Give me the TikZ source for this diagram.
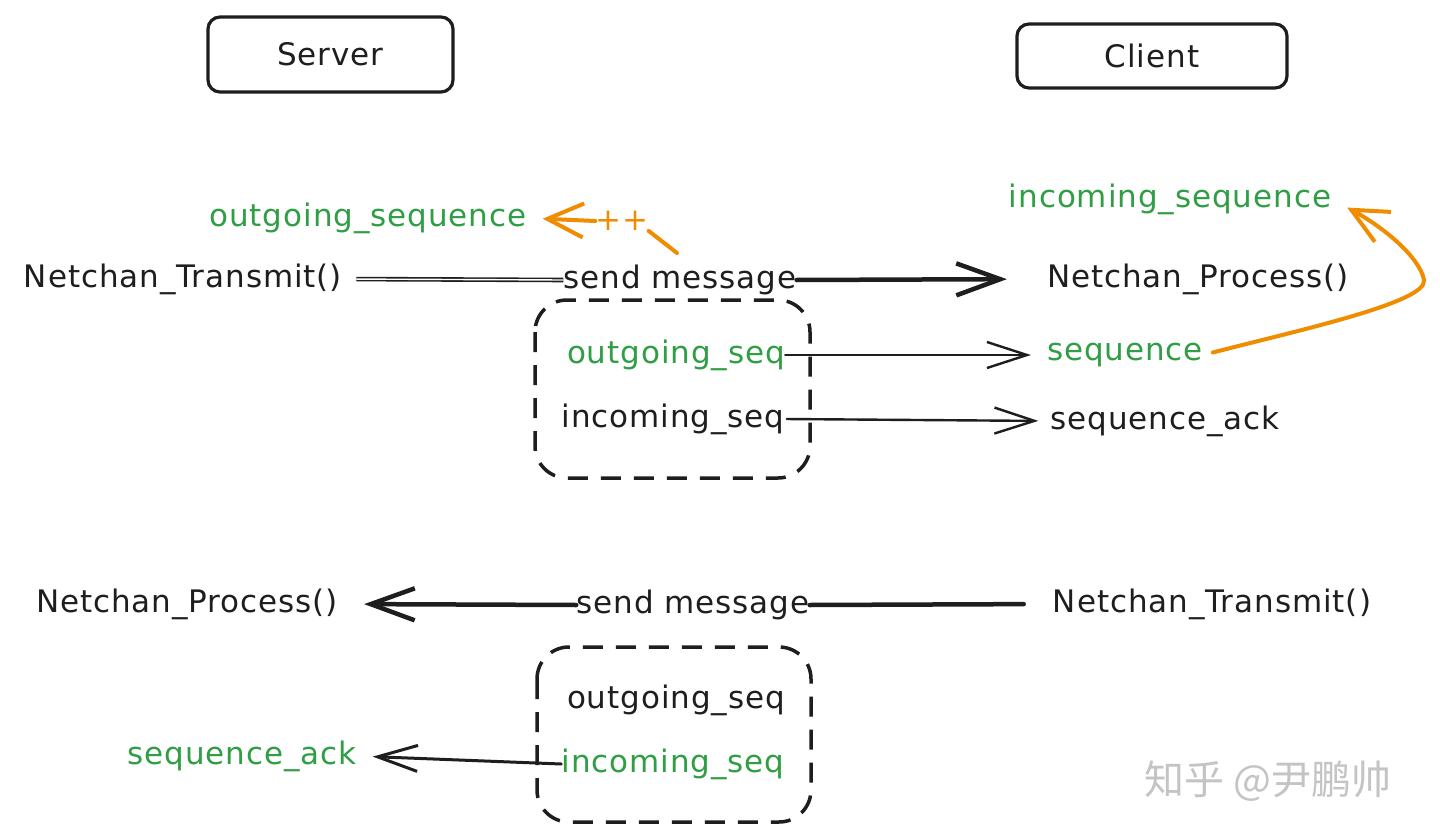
\documentclass[tikz,border=0pt]{standalone}
\usepackage{fontspec}
\setmainfont[LetterSpace=3]{DejaVu Sans}
\newfontfamily\cjk{Noto Sans CJK SC}
\usetikzlibrary{arrows.meta}
\definecolor{ink}{HTML}{1E1E1E}
\definecolor{grn}{HTML}{2F9E44}
\definecolor{org}{HTML}{F08C00}
\definecolor{wmgray}{HTML}{C4C4C4}
\begin{document}
\begin{tikzpicture}[x=1pt,y=-1pt,
  txt/.style={inner sep=0pt, text=ink, yshift=-3pt, font=\fontsize{31}{36}\selectfont},
  gtxt/.style={txt, text=grn},
  otxt/.style={txt, text=org},
  hdr/.style={txt, yshift=3pt, draw=ink, line width=3.2pt, rounded corners=12pt},
  dbox/.style={draw=ink, line width=3.5pt, dash pattern=on 20pt off 13pt, rounded corners=32pt},
  bigline/.style={draw=ink, line width=4.5pt, line cap=round},
  dblline/.style={draw=ink, double=white, double distance=1.4pt, line width=1.6pt},
  bighead/.style={-{Straight Barb[length=44pt,width=32pt]}},
  thinline/.style={draw=ink, line width=2.4pt, line cap=round},
  thinhead/.style={-{Straight Barb[length=40pt,width=26pt]}},
  oline/.style={draw=org, line width=4pt, line cap=round},
  ohead/.style={-{Straight Barb[length=36pt,width=34pt]}},
]
\fill[white] (0,0) rectangle (1440,840);
\useasboundingbox (0,0) rectangle (1440,840);

% headers
\node[hdr, minimum width=245pt, minimum height=75pt] (srv) at (330.5,54.5) {Server};
\node[hdr, minimum width=270pt, minimum height=64pt] (cli) at (1152,56) {Client};

% top section texts
\node[gtxt] (outseqL) at (368,215) {outgoing\_sequence};
\node[otxt] (plus) at (622,218) {++};
\node[gtxt] (inseqR) at (1170,196) {incoming\_sequence};
\node[txt] (ntx) at (183,276) {Netchan\_Transmit()};
\node[txt] (sm1) at (680,277) {send message};
\node[txt] (npr) at (1198,276) {Netchan\_Process()};
\node[gtxt] (os1) at (676,352) {outgoing\_seq};
\node[txt] (is1) at (673,416) {incoming\_seq};
\node[gtxt] (seq) at (1125,352) {sequence};
\node[txt] (sack) at (1165,418) {sequence\_ack};
\coordinate (ppstart) at (677,253);

% bottom section texts
\node[txt] (npr2) at (187,601) {Netchan\_Process()};
\node[txt] (sm2) at (693,602) {send message};
\node[txt] (ntx2) at (1212,601) {Netchan\_Transmit()};
\node[txt] (os2) at (676,697) {outgoing\_seq};
\node[gtxt] (is2) at (673,761) {incoming\_seq};
\node[gtxt] (sack2) at (242,753) {sequence\_ack};

% dashed packet boxes
\draw[dbox] (535,300) rectangle (810,478);
\draw[dbox] (537,647) rectangle (811,822);

% top connectors
\draw[dblline, shorten <=14pt] (ntx.east) -- (sm1.west);
\draw[bigline, bighead, shorten >=40pt] (sm1.east) -- (npr.west);
\draw[thinline, thinhead, shorten >=16pt] (os1.east) -- (seq.west);
\draw[thinline, thinhead, shorten <=2pt, shorten >=12pt] (is1.east) -- (sack.west);
\draw[oline, ohead, shorten <=10pt, shorten >=18pt] (seq.east)
  .. controls (1300,330) and (1428,302) .. (1424,280)
  .. controls (1420,258) and (1385,228) .. (inseqR.east);
\draw[oline] (ppstart) -- (plus.south east);
\draw[oline, ohead, shorten >=16pt] (plus.west) -- (outseqL.east);

% bottom connectors
\draw[bigline, shorten <=29pt] (ntx2.west) -- (sm2.east);
\draw[bigline, bighead, shorten >=26pt] (sm2.west) -- (npr2.east);
\draw[thinline, line width=3pt, thinhead, shorten >=16pt] (is2.west) -- (sack2.east);

% watermark
\node[inner sep=0pt, text=wmgray, font=\cjk\fontsize{40}{46}\selectfont] (wm) at (1268,781) {知乎 @尹鹏帅};
\end{tikzpicture}
\end{document}
